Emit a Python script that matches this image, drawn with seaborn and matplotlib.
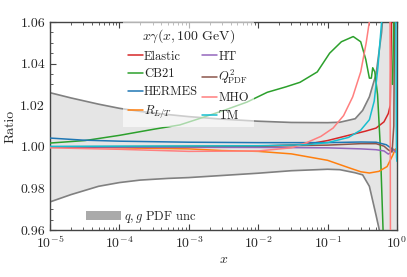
import numpy as np
import pandas as pd
import matplotlib
matplotlib.use("Agg")
import matplotlib.pyplot as plt
import seaborn as sns
from matplotlib.patches import Patch
from matplotlib.ticker import MultipleLocator, LogLocator, NullFormatter

# --- data (ratio to central x*gamma at 100 GeV) ---
band_x = [1e-5, 2e-5, 5e-5, 1e-4, 2e-4, 5e-4, 1e-3, 3e-3, 1e-2, 3e-2, 0.1, 0.15,
          0.25, 0.32, 0.4, 0.5, 0.6, 0.65, 0.8, 1.0]
band_hi = [1.026, 1.0235, 1.0205, 1.0185, 1.017, 1.0155, 1.0145, 1.0133, 1.0123,
           1.0117, 1.0116, 1.0118, 1.0135, 1.0175, 1.024, 1.035, 1.055, 1.07, 1.12, 1.2]
band_lo = [0.9735, 0.977, 0.981, 0.9828, 0.984, 0.9848, 0.9852, 0.9862, 0.9873,
           0.9885, 0.9892, 0.989, 0.9875, 0.9865, 0.981, 0.967, 0.955, 0.945, 0.92, 0.9]

elastic_x = [1e-5, 1e-3, 1e-2, 5e-2, 0.1, 0.2, 0.35, 0.5, 0.65, 0.75, 0.8, 0.84]
elastic_y = [1.0, 1.0, 1.0003, 1.0012, 1.003, 1.0055, 1.0075, 1.009, 1.012, 1.016, 1.02, 1.07]

cb21_x = [1e-5, 3.2e-5, 1e-4, 3.2e-4, 7.4e-4, 1.4e-3, 3.2e-3, 6.9e-3, 1.35e-2, 2.5e-2,
          4e-2, 7.1e-2, 0.107, 0.158, 0.234, 0.30, 0.355, 0.40, 0.427, 0.447, 0.479,
          0.525, 0.575, 0.63]
cb21_y = [1.0018, 1.003, 1.0055, 1.0085, 1.0105, 1.0135, 1.0175, 1.0215, 1.0262, 1.0288,
          1.031, 1.036, 1.045, 1.0505, 1.053, 1.0505, 1.042, 1.033, 1.033, 1.038, 1.036,
          1.025, 1.0, 0.96]
cb21_tail_x = [0.86, 0.88, 0.92]
cb21_tail_y = [1.03, 1.045, 1.08]

hermes_x = [1e-5, 3e-5, 1e-4, 1e-3, 1e-2, 0.1, 0.3, 0.5, 0.7, 0.85, 1.0]
hermes_y = [1.0042, 1.0032, 1.0027, 1.0022, 1.002, 1.002, 1.0023, 1.0022, 1.001, 0.999, 0.998]

rlt_x = [1e-5, 1e-4, 1e-3, 3e-3, 1e-2, 3e-2, 0.1, 0.2, 0.3, 0.4, 0.55, 0.72, 0.87, 0.95, 1.0]
rlt_y = [1.0, 0.9995, 0.999, 0.9982, 0.9978, 0.9966, 0.9935, 0.99, 0.988, 0.9874, 0.9882,
         0.9905, 0.996, 0.999, 0.998]

ht_x = [1e-5, 1e-2, 0.1, 0.3, 0.5, 0.65, 0.75, 0.8, 0.85, 0.92, 1.0]
ht_y = [0.9998, 0.9997, 0.9995, 0.999, 0.9986, 0.998, 0.9965, 0.997, 0.999, 0.998, 0.997]

q2_x = [1e-5, 1e-2, 0.1, 0.3, 0.5, 0.65, 0.75, 0.85, 0.9, 0.93]
q2_y = [1.0, 1.0003, 1.0008, 1.0015, 1.0015, 1.0003, 0.9985, 0.9975, 1.01, 1.08]

mho_x = [1e-5, 1e-4, 1e-3, 1e-2, 3e-2, 5e-2, 8e-2, 0.12, 0.17, 0.23, 0.3, 0.36, 0.42,
         0.6, 0.79, 0.81]
mho_y = [0.9995, 0.9988, 0.9978, 0.998, 0.9995, 1.002, 1.005, 1.009, 1.015, 1.024, 1.036,
         1.05, 1.065, 1.2, 1.1, 0.9]

tm_x = [1e-5, 1e-2, 5e-2, 0.1, 0.2, 0.3, 0.4, 0.47, 0.53, 0.6, 0.7, 0.95, 0.985, 1.0]
tm_y = [1.0002, 1.0005, 1.001, 1.002, 1.0045, 1.008, 1.013, 1.022, 1.038, 1.06, 1.1, 1.1,
        0.995, 0.993]

names = ["Elastic", "CB21", "HERMES", r"$R_{L/T}$", "HT", r"$Q^2_{\rm PDF}$", "MHO", "TM"]
colors = ["#d62728", "#2ca02c", "#1f77b4", "#ff7f0e", "#9467bd", "#8c564b", "#ff7f7f", "#17becf"]
series_x = [elastic_x, cb21_x, hermes_x, rlt_x, ht_x, q2_x, mho_x, tm_x]
series_y = [elastic_y, cb21_y, hermes_y, rlt_y, ht_y, q2_y, mho_y, tm_y]

# --- style ---
sns.set_style("ticks")
plt.rcParams["font.family"] = "serif"
plt.rcParams["font.serif"] = ["cmr10", "DejaVu Serif"]
plt.rcParams["mathtext.fontset"] = "cm"
plt.rcParams["axes.formatter.use_mathtext"] = True
plt.rcParams["axes.unicode_minus"] = False

fig = plt.figure(figsize=(4.07, 2.77), dpi=100)
ax = fig.add_axes([0.1229, 0.1697, 0.8525, 0.7509])

ax.fill_between(band_x, band_lo, band_hi, color="#e5e5e5", zorder=1, lw=0)
ax.plot(band_x, band_hi, color="#808080", lw=1.2, zorder=2)
ax.plot(band_x, band_lo, color="#808080", lw=1.2, zorder=2)

for nm, c, xs, ys in zip(names, colors, series_x, series_y):
    df = pd.DataFrame({"x": xs, "y": ys})
    sns.lineplot(data=df, x="x", y="y", color=c, lw=1.1, label=nm, ax=ax,
                 estimator=None, sort=False, zorder=3)
sns.lineplot(x=cb21_tail_x, y=cb21_tail_y, color=colors[1], lw=1.1, ax=ax,
             estimator=None, sort=False, legend=False, zorder=3)

ax.set_xscale("log")
ax.set_xlim(1e-5, 1.0)
ax.set_ylim(0.96, 1.06)
ax.yaxis.set_major_locator(MultipleLocator(0.02))
ax.yaxis.set_minor_locator(MultipleLocator(0.005))
ax.yaxis.set_major_formatter(matplotlib.ticker.FormatStrFormatter("%.2f"))
ax.xaxis.set_minor_locator(LogLocator(base=10, subs=np.arange(2, 10), numticks=20))
ax.xaxis.set_minor_formatter(NullFormatter())
ax.tick_params(which="both", direction="in", top=True, right=True, labelsize=10,
               color="#444444")
ax.tick_params(which="major", length=4, width=0.8)
ax.tick_params(which="minor", length=2, width=0.6)
for s in ax.spines.values():
    s.set_color("#444444")
    s.set_linewidth(1.0)

ax.set_xlabel(r"$x$", fontsize=10, labelpad=2)
ax.set_ylabel("Ratio", fontsize=10, labelpad=3)

leg1 = ax.legend(loc="upper left", bbox_to_anchor=(0.21, 1.0), ncol=2, fontsize=9,
                 title=r"$x\gamma(x, 100\ \mathrm{GeV})$", title_fontsize=10,
                 handlelength=1.2, handletextpad=0.1, columnspacing=0.3,
                 labelspacing=0.45, frameon=True, fancybox=False, borderpad=0.4,
                 borderaxespad=0.0)
leg1.get_frame().set_facecolor("white")
leg1.get_frame().set_alpha(0.6)
leg1.get_frame().set_linewidth(0)
leg1.set_zorder(4)
ax.add_artist(leg1)

unc = Patch(facecolor="#aaaaaa", edgecolor="none", label=r"$q, g$ PDF unc")
leg2 = ax.legend(handles=[unc], loc="lower left", bbox_to_anchor=(0.07, -0.03),
                 fontsize=9, frameon=False, handlelength=2.8, handleheight=0.8,
                 handletextpad=0.3)

fig.savefig("out.png", dpi=100)
